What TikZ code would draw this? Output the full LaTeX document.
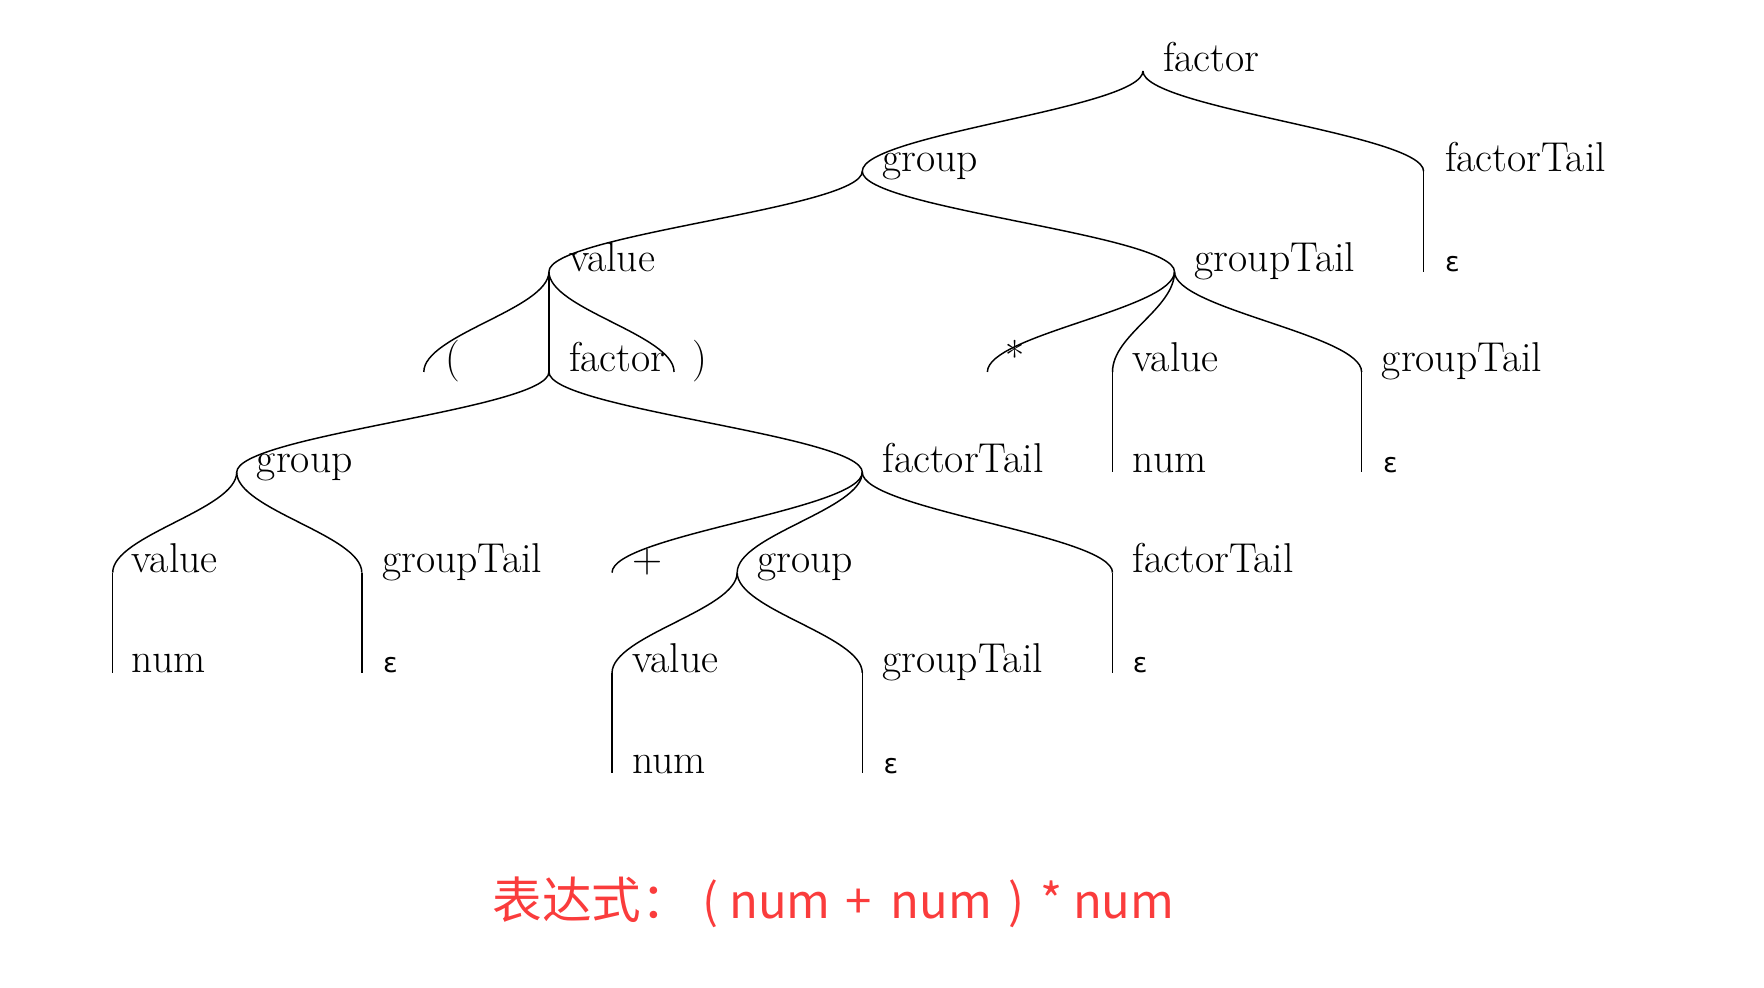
\documentclass[tikz,border=0pt]{standalone}
\usepackage{fontspec}
\newfontfamily\cjk{Noto Sans CJK SC}
\newfontfamily\epsfont{DejaVu Sans}
\definecolor{exprred}{RGB}{250,60,60}
\tikzset{
  edge/.style={line width=1.3pt, black},
  lbl/.style={inner sep=0pt, outer sep=0pt, anchor=base west, font=\fontsize{37}{42}\selectfont},
  eps/.style={inner sep=0pt, outer sep=0pt, anchor=base west, font=\epsfont\fontsize{24}{30}\selectfont},
  expr/.style={inner sep=0pt, outer sep=0pt, anchor=base west, text=exprred, font=\cjk\fontsize{44}{50}\selectfont},
  exprlat/.style={expr, font=\cjk\fontsize{42}{50}\selectfont}
}
\newcommand\brn[2]{\draw[edge] (#1) .. controls +(0,33) and +(0,-33) .. (#2);}
\begin{document}
\begin{tikzpicture}[x=1pt,y=-1pt]
\useasboundingbox (0,0) rectangle (1565,876.5);
% row baselines: 63,152,241,330,419,508,597,686
\coordinate (A) at (1014,63);
\coordinate (B) at (765,152);
\coordinate (C) at (1263,152);
\coordinate (D) at (487,241);
\coordinate (E) at (1042,241);
\coordinate (F) at (1263,241);
\coordinate (G) at (376,330);
\coordinate (H) at (487,330);
\coordinate (I) at (598,330);
\coordinate (J) at (876,330);
\coordinate (K) at (987,330);
\coordinate (L) at (1208,330);
\coordinate (M) at (210,419);
\coordinate (N) at (765,419);
\coordinate (O) at (987,419);
\coordinate (P) at (1208,419);
\coordinate (Q) at (100,508);
\coordinate (R) at (321,508);
\coordinate (S) at (543,508);
\coordinate (T) at (654,508);
\coordinate (U) at (987,508);
\coordinate (V) at (100,597);
\coordinate (W) at (321,597);
\coordinate (X) at (543,597);
\coordinate (Y) at (765,597);
\coordinate (Z) at (987,597);
\coordinate (AA) at (543,686);
\coordinate (AB) at (765,686);
% labels
\node[lbl] (Al) at (1032,63) {factor};
\node[lbl] (Bl) at (783,152) {group};
\node[lbl] (Cl) at (1282,152) {factorTail};
\node[lbl] (Dl) at (505,241) {value};
\node[lbl] (El) at (1060,241) {groupTail};
\node[eps] (Fl) at (1282,241) {ε};
\node[lbl] (Gl) at (395,330) {(};
\node[lbl] (Hl) at (505,330) {factor};
\node[lbl] (Il) at (614,330) {)};
\node[lbl] (Jl) at (892,330) {*};
\node[lbl] (Kl) at (1005,330) {value};
\node[lbl] (Ll) at (1226,330) {groupTail};
\node[lbl] (Ml) at (228,419) {group};
\node[lbl] (Nl) at (783,419) {factorTail};
\node[lbl] (Ol) at (1005,419) {num};
\node[eps] (Pl) at (1227,419) {ε};
\node[lbl] (Ql) at (117,508) {value};
\node[lbl] (Rl) at (339,508) {groupTail};
\node[lbl] (Sl) at (561,508) {+};
\node[lbl] (Tl) at (672,508) {group};
\node[lbl] (Ul) at (1005,508) {factorTail};
\node[lbl] (Vl) at (117,597) {num};
\node[eps] (Wl) at (340,597) {ε};
\node[lbl] (Xl) at (561,597) {value};
\node[lbl] (Yl) at (783,597) {groupTail};
\node[eps] (Zl) at (1005,597) {ε};
\node[lbl] (AAl) at (561,686) {num};
\node[eps] (ABl) at (784,686) {ε};
% edges
\brn{A}{B}\brn{A}{C}
\brn{B}{D}\brn{B}{E}\brn{C}{F}
\brn{D}{G}\brn{D}{H}\brn{D}{I}
\brn{E}{J}\brn{E}{K}\brn{E}{L}
\brn{H}{M}\brn{H}{N}\brn{K}{O}\brn{L}{P}
\brn{M}{Q}\brn{M}{R}\brn{N}{S}\brn{N}{T}\brn{N}{U}
\brn{Q}{V}\brn{R}{W}\brn{T}{X}\brn{T}{Y}\brn{U}{Z}
\brn{X}{AA}\brn{Y}{AB}
% expression
\node[expr] (ex) at (437,815) {表达式：};
\node[exprlat] (ex1) at (623,815) {(};
\node[exprlat] (ex2) at (647,815) {num};
\node[exprlat] (ex3) at (750,815) {+};
\node[exprlat] (ex4) at (790,815) {num};
\node[exprlat] (ex5) at (895,815) {)};
\node[exprlat] (ex6) at (923,815) {*};
\node[exprlat] (ex7) at (952,815) {num};
\end{tikzpicture}
\end{document}
